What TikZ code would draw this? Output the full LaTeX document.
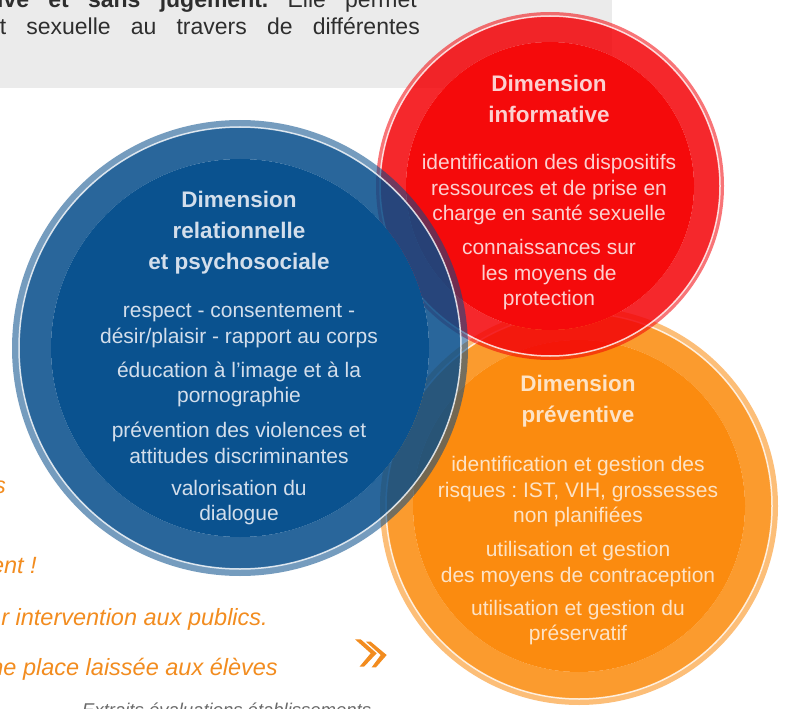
\documentclass[tikz,border=0pt]{standalone}
\usepackage{fontspec}
\setmainfont{Liberation Sans}
\usepackage{tikz}
\frenchspacing

\definecolor{greybox}{HTML}{EBEBEB}
\definecolor{greytext}{HTML}{2E2E2E}
\definecolor{quotecol}{HTML}{F28C1F}
\definecolor{sourcecol}{HTML}{6A6A6A}
\definecolor{blueband}{HTML}{044B89}
\definecolor{bluecore}{HTML}{0A528F}
\definecolor{bluetext}{HTML}{D3DEEB}
\definecolor{redband}{HTML}{F30207}
\definecolor{redcore}{HTML}{F50A0B}
\definecolor{redtext}{HTML}{FCD0D0}
\definecolor{orangeband}{HTML}{FA8909}
\definecolor{orangecore}{HTML}{FB8B0F}
\definecolor{orangetext}{HTML}{FDE3C6}

\begin{document}
\begin{tikzpicture}[scale=0.3514598,
    edgering/.style={fill=#1, fill opacity=.55, even odd rule},
    bandring/.style={fill=#1, fill opacity=.85, even odd rule},
    coredisk/.style={fill=#1},
    ringline/.style={draw=white, line width=1.5pt, draw opacity=.8},
    headtext/.style={align=center, text=#1, font=\fontsize{22.5}{31}\selectfont\bfseries},
    bodytext/.style={align=center, text=#1, font=\fontsize{21}{25.5}\selectfont},
    quoteline/.style={anchor=base east, text=quotecol, font=\fontsize{23.5}{27}\selectfont\itshape}]
            \tikzstyle{every node}+=[inner sep=0pt]
            \useasboundingbox (0,0) rectangle (78.7,-70.9);
            \clip (0,0) rectangle (78.7,-70.9);
            % intro box
            \fill [greybox] (0,0) rectangle (61.2,-8.8);
            \draw (41.7,-0.75) node [anchor=base east, text=greytext, font=\fontsize{23}{29}\selectfont] (introa) {\makebox[440pt][s]{\bfseries ative et sans jugement.\mdseries\ Elle permet}};
            \draw (42.0,-3.5) node [anchor=base east, text=greytext, font=\fontsize{23}{29}\selectfont] (introb) {\makebox[420pt][s]{t sexuelle au travers de différentes}};
            % quotes
            \draw (0.6,-49.3) node [quoteline] (quotea) {s};
            \draw (3.7,-57.3) node [quoteline] (quoteb) {ent !};
            \draw (26.8,-62.5) node [quoteline] (quotec) {r intervention aux publics.};
            \draw (27.8,-67.5) node [quoteline] (quoted) {ne place laissée aux élèves};
            \fill [quotecol] (35.5,-63.93) -- (36.07,-63.93) -- (37.67,-65.33) -- (36.4,-66.67) -- (35.95,-66.67) -- (37.07,-65.33) -- cycle;
            \fill [quotecol] (36.6,-64.17) -- (37.07,-64.17) -- (38.67,-65.5) -- (37.6,-66.73) -- (37.17,-66.73) -- (38.07,-65.5) -- cycle;
            \draw (8.2,-71.6) node [anchor=base west, text=sourcecol, font=\fontsize{18.5}{22}\selectfont\itshape] (source) {Extraits évaluations établissements};
            % preventive
            \fill [edgering=orangeband] (57.9,-50.6) circle (19.9) (57.9,-50.6) circle (19.3);
            \fill [bandring=orangeband] (57.9,-50.6) circle (19.3) (57.9,-50.6) circle (16.6);
            \fill [coredisk=orangecore] (57.9,-50.6) circle (16.6);
            \draw [ringline] (57.9,-50.6) circle (19.3);
            % informative
            \fill [edgering=redband] (55.0,-18.6) circle (17.4) (55.0,-18.6) circle (17.0);
            \fill [bandring=redband] (55.0,-18.6) circle (17.0) (55.0,-18.6) circle (14.4);
            \fill [coredisk=redcore] (55.0,-18.6) circle (14.4);
            \draw [ringline] (55.0,-18.6) circle (17.0);
            % relationnelle
            \fill [edgering=blueband] (24.0,-34.8) circle (22.8) (24.0,-34.8) circle (22.1);
            \fill [bandring=blueband] (24.0,-34.8) circle (22.1) (24.0,-34.8) circle (18.9);
            \fill [coredisk=bluecore] (24.0,-34.8) circle (18.9);
            \draw [ringline] (24.0,-34.8) circle (22.1);
            % texts
            \draw (54.9,-9.9) node [headtext=redtext] (infohead) {Dimension\\informative};
            \draw (54.9,-19.0) node [bodytext=redtext] (infoa) {identification des dispositifs\\ressources et de prise en\\charge en santé sexuelle};
            \draw (54.9,-27.5) node [bodytext=redtext] (infob) {connaissances sur\\les moyens de\\protection};
            \draw (57.8,-40.1) node [headtext=orangetext] (prevhead) {Dimension\\préventive};
            \draw (57.8,-49.2) node [bodytext=orangetext] (preva) {identification et gestion des\\risques : IST, VIH, grossesses\\non planifiées};
            \draw (57.8,-56.4) node [bodytext=orangetext] (prevb) {utilisation et gestion\\des moyens de contraception};
            \draw (57.8,-62.25) node [bodytext=orangetext] (prevc) {utilisation et gestion du\\préservatif};
            \draw (23.9,-23.3) node [headtext=bluetext] (relhead) {Dimension\\relationnelle\\et psychosociale};
            \draw (23.9,-32.6) node [bodytext=bluetext] (rela) {respect - consentement -\\désir/plaisir - rapport au corps};
            \draw (23.9,-38.45) node [bodytext=bluetext] (relb) {éducation à l'image et à la\\pornographie};
            \draw (23.9,-44.3) node [bodytext=bluetext] (relc) {prévention des violences et\\attitudes discriminantes};
            \draw (23.9,-50.25) node [bodytext=bluetext] (reld) {valorisation du\\dialogue};
        \end{tikzpicture}
\end{document}
